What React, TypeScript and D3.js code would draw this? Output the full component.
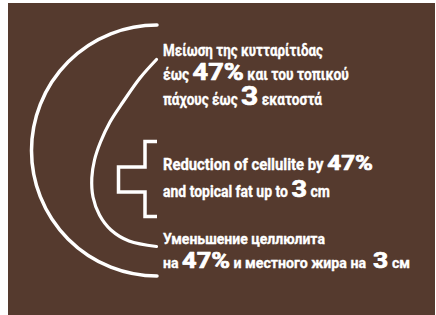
import React, { useEffect, useRef } from "react";
import * as d3 from "d3";

type Seg = { t: string; big?: boolean };

// Text content
const greekLine1: Seg[] = [{ t: "Μείωση της κυτταρίτιδας" }];
const greekLine2: Seg[] = [{ t: "έως " }, { t: "47%", big: true }, { t: " και του τοπικού" }];
const greekLine3: Seg[] = [{ t: "πάχους έως " }, { t: "3", big: true }, { t: " εκατοστά" }];
const englishLine1: Seg[] = [{ t: "Reduction of cellulite by " }, { t: "47%", big: true }];
const englishLine2: Seg[] = [{ t: "and topical fat up to " }, { t: "3", big: true }, { t: " cm" }];
const russianLine1: Seg[] = [{ t: "Уменьшение целлюлита" }];
const russianLine2: Seg[] = [
  { t: "на " },
  { t: "47%", big: true },
  { t: " и местного жира на  " },
  { t: "3", big: true },
  { t: " см" },
];

const lines = [greekLine1, greekLine2, greekLine3, englishLine1, englishLine2, russianLine1, russianLine2];

// Layout (positions / sizes)
const W = 436;
const H = 315;
const BG = "#553a2e";
const FG = "#ffffff";
const textX = 163;
const bigScaleX = 1.18;
const lineLayout = [
  { y: 56, w: 160, small: 16.5, big: [] as number[] },
  { y: 80, w: 186, small: 16.5, big: [23] },
  { y: 105, w: 159, small: 16.5, big: [25.5] },
  { y: 169.5, w: 210, small: 16, big: [20.5] },
  { y: 197, w: 167, small: 16, big: [23] },
  { y: 244, w: 162, small: 15.5, big: [] as number[] },
  { y: 268, w: 247, small: 15.5, big: [21.5, 22.5] },
];

export default function App() {
  const ref = useRef<SVGSVGElement | null>(null);

  useEffect(() => {
    const svg = d3.select(ref.current);
    svg.selectAll("*").remove();

    svg.append("rect").attr("x", 8).attr("y", 3).attr("width", 427).attr("height", H - 3).attr("fill", BG);

    const g = svg.append("g").attr("fill", "none").attr("stroke", FG).attr("stroke-linecap", "round");

    // Outer semicircle
    const outer = d3.path();
    const cx = 157, cy = 150.5, r = 125.5;
    outer.moveTo(cx, cy - r);
    outer.arc(cx, cy, r, -Math.PI / 2, Math.PI / 2, true);
    g.append("path").attr("d", outer.toString()).attr("stroke-width", 3.5);

    // Inner drop curve
    const dropPts: [number, number][] = [
      [156.5, 59.5], [140, 78], [123, 102], [110, 122], [100.5, 142], [94.5, 160],
      [91.8, 178], [93, 197], [99.5, 215], [111, 230], [129, 241], [156.5, 246.5],
    ];
    const line = d3.line().curve(d3.curveCatmullRom.alpha(0.5));
    g.append("path").attr("d", line(dropPts) as string).attr("stroke-width", 3.2);

    // Cross-like shape
    const crossPts: [number, number][] = [
      [157, 141.5], [145, 141.5], [145, 167], [118.5, 167], [118.5, 192], [145, 192], [145, 216.5], [157, 216.5],
    ];
    g.append("path")
      .attr("d", d3.line()(crossPts) as string)
      .attr("stroke-width", 3.5)
      .attr("stroke-linecap", "butt")
      .attr("stroke-linejoin", "miter");

    // Text
    const tg = svg
      .append("g")
      .attr("fill", FG)
      .attr("stroke", FG)
      .attr("stroke-linejoin", "round")
      .attr("font-family", "Roboto, 'Noto Sans', sans-serif")
      .attr("font-weight", 700);

    lines.forEach((segs, i) => {
      const L = lineLayout[i];
      let bi = 0;
      const items = segs.map((s) => {
        const fs = s.big ? L.big[bi++] : L.small;
        const t = tg
          .append("text")
          .attr("font-size", fs)
          .attr("stroke-width", s.big ? 0.7 : 0.35)
          .style("white-space", "pre")
          .text(s.t);
        const w = (t.node() as SVGTextElement).getComputedTextLength();
        return { s, t, w };
      });
      const bigW = d3.sum(items.filter((d) => d.s.big), (d) => d.w * bigScaleX);
      const smallW = d3.sum(items.filter((d) => !d.s.big), (d) => d.w);
      const sxSmall = (L.w - bigW) / (smallW || 1);
      let x = textX;
      items.forEach((d) => {
        const sx = d.s.big ? bigScaleX : sxSmall;
        d.t.attr("transform", `translate(${x},${L.y}) scale(${sx},1)`);
        x += d.w * sx;
      });
    });
  }, []);

  return (
    <svg
      ref={ref}
      width={W}
      height={H}
      style={{ position: "absolute", left: 0, top: 0, display: "block" }}
    />
  );
}
